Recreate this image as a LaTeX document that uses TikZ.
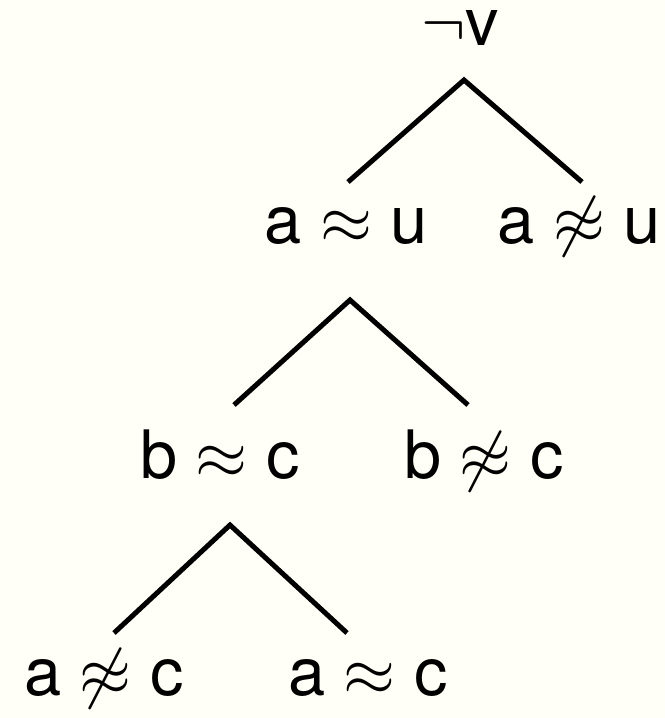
\documentclass[tikz,border=0pt]{standalone}
\usepackage{fix-cm}
\usepackage{fontspec}
\setmainfont{TeX Gyre Heros}
\usetikzlibrary{calc}
\definecolor{paper}{RGB}{255,255,247}
\tikzset{
  lit/.style={anchor=base, inner sep=0pt, font=\fontsize{38}{46}\selectfont},
  edge/.style={line width=2.85pt}
}
\begin{document}
\begin{tikzpicture}[x=0.02cm, y=-0.02cm]
	\fill[paper] (0,0) rectangle (665,718);
	\useasboundingbox (0,0) rectangle (665,718);

	% literals, placed on their baselines
	\node[lit] (nv)  at (460,45)  {$\neg$v};
	\node[lit] (au)  at (346,243) {a $\approx$ u};
	\node[lit] (anu) at (579,243) {a $\not\approx$ u};
	\node[lit] (bc)  at (220,478) {b $\approx$ c};
	\node[lit] (bnc) at (484,478) {b $\not\approx$ c};
	\node[lit] (anc) at (104,695) {a $\not\approx$ c};
	\node[lit] (ac)  at (368,695) {a $\approx$ c};

	% splits
	\draw[edge] ($(au.base)+(2,-61)$) -- ($(nv.base)+(4,35)$) -- ($(anu.base)+(3,-61)$);
	\draw[edge] ($(bc.base)+(14,-73)$) -- ($(au.base)+(4,57)$) -- ($(bnc.base)+(-16,-73)$);
	\draw[edge] ($(anc.base)+(10,-62)$) -- ($(bc.base)+(10,47)$) -- ($(ac.base)+(-21,-62)$);
\end{tikzpicture}
\end{document}
